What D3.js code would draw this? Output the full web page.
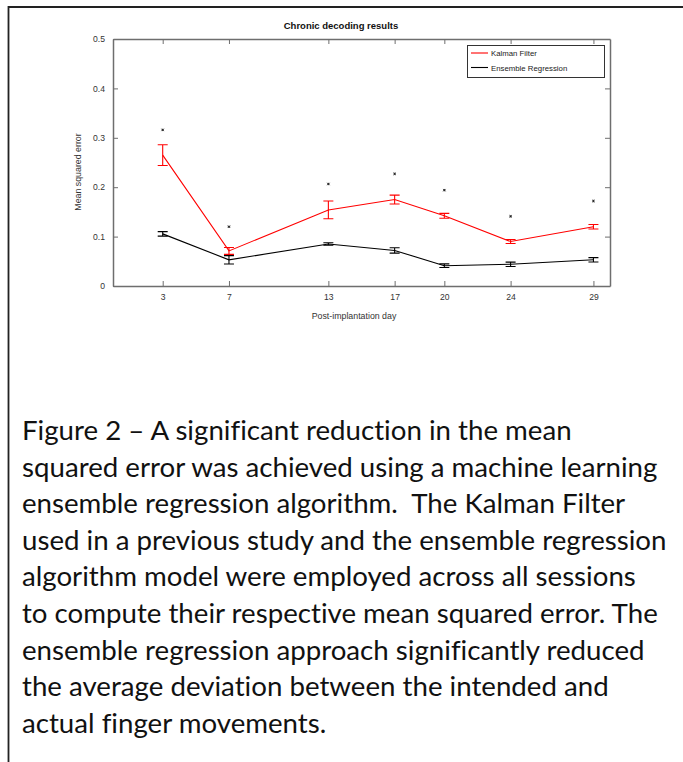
<!DOCTYPE html>
<html>
<head>
<meta charset="utf-8">
<script src="https://cdn.jsdelivr.net/npm/d3@7"></script>
<style>
  body { margin: 0; background: #fff; }
  svg { display: block; }
</style>
</head>
<body>
<div id="chart"></div>
<script>
// data
const days = [3, 7, 13, 17, 20, 24, 29];
const kalmanMean = [0.265, 0.071, 0.154, 0.175, 0.142, 0.090, 0.120];
const kalmanErr = [0.021, 0.007, 0.018, 0.009, 0.005, 0.004, 0.0045];
const ensembleMean = [0.1055, 0.053, 0.085, 0.072, 0.041, 0.044, 0.053];
const ensembleErr = [0.0045, 0.0085, 0.0025, 0.0055, 0.0037, 0.0044, 0.0044];
const sigMarks = [0.316, 0.120, 0.2065, 0.227, 0.194, 0.141, 0.172];
const yTicks = [0, 0.1, 0.2, 0.3, 0.4, 0.5];
const yTickLabels = ["0", "0.1", "0.2", "0.3", "0.4", "0.5"];
const seriesNames = ["Kalman Filter", "Ensemble Regression"];
const captionLines = [
  "Figure 2 \u2013 A significant reduction in the mean",
  "squared error was achieved using a machine learning",
  "ensemble regression algorithm.  The Kalman Filter",
  "used in a previous study and the ensemble regression",
  "algorithm model were employed across all sessions",
  "to compute their respective mean squared error. The",
  "ensemble regression approach significantly reduced",
  "the average deviation between the intended and",
  "actual finger movements."
];

function drawChart() {
  const width = 683;
  const height = 762;

  const dimensions = {
    left: 113,
    right: 610,
    top: 39,
    bottom: 286,
  };

  const svg = d3.select("#chart")
    .append("svg")
      .attr("width", width)
      .attr("height", height);

  // outer frame (top and left only)
  svg.append("path")
    .attr("d", `M8.5,${height} L8.5,7 L${width},7`)
    .attr("fill", "none")
    .attr("stroke", "#222")
    .attr("stroke-width", 1.8);

  const xScale = d3.scaleLinear()
    .domain([0, 30])
    .range([dimensions.left, dimensions.right]);

  const yScale = d3.scaleLinear()
    .domain([0, 0.5])
    .range([dimensions.bottom, dimensions.top]);

  const axisColor = "#6e6e6e";
  const labelColor = "#333";
  const tickLen = 5;

  // axes box with inward ticks on all sides
  const bottomAxis = d3.axisBottom(xScale).tickValues(days).tickSizeInner(-tickLen).tickSizeOuter(0).tickPadding(8);
  const topAxis = d3.axisTop(xScale).tickValues(days).tickSizeInner(-tickLen).tickSizeOuter(0).tickFormat("");
  const leftAxis = d3.axisLeft(yScale).tickValues(yTicks).tickSizeInner(-tickLen).tickSizeOuter(0)
    .tickPadding(8).tickFormat((d, i) => yTickLabels[i]);
  const rightAxis = d3.axisRight(yScale).tickValues(yTicks).tickSizeInner(-tickLen).tickSizeOuter(0).tickFormat("");

  const axes = [
    [bottomAxis, `translate(0,${dimensions.bottom})`],
    [topAxis, `translate(0,${dimensions.top})`],
    [leftAxis, `translate(${dimensions.left},0)`],
    [rightAxis, `translate(${dimensions.right},0)`],
  ];
  axes.forEach(([ax, tr]) => {
    const g = svg.append("g").attr("transform", tr).call(ax);
    g.select(".domain").attr("stroke", axisColor).attr("stroke-width", 1.5);
    g.selectAll(".tick line").attr("stroke", axisColor);
    g.selectAll(".tick text")
      .attr("fill", labelColor)
      .style("font-family", "'Liberation Sans', Arial, sans-serif")
      .style("font-size", "8.6px");
  });

  // title and axis labels
  svg.append("text")
    .attr("x", 341)
    .attr("y", 29)
    .attr("text-anchor", "middle")
    .style("font-family", "'Liberation Sans', Arial, sans-serif")
    .style("font-size", "9.5px")
    .style("font-weight", "bold")
    .attr("fill", "#111")
    .text("Chronic decoding results");

  svg.append("text")
    .attr("x", 354)
    .attr("y", 319)
    .attr("text-anchor", "middle")
    .style("font-family", "'Liberation Sans', Arial, sans-serif")
    .style("font-size", "8.8px")
    .attr("fill", labelColor)
    .text("Post-implantation day");

  svg.append("text")
    .attr("transform", `translate(81,172) rotate(-90)`)
    .attr("text-anchor", "middle")
    .style("font-family", "'Liberation Sans', Arial, sans-serif")
    .style("font-size", "8.8px")
    .attr("fill", labelColor)
    .text("Mean squared error");

  // series
  const series = [
    { name: seriesNames[0], color: "#ff0000", mean: kalmanMean, err: kalmanErr },
    { name: seriesNames[1], color: "#000000", mean: ensembleMean, err: ensembleErr },
  ];

  const line = d3.line()
    .x(d => xScale(d[0]))
    .y(d => yScale(d[1]));

  const capHalf = 5;

  series.forEach(s => {
    const pts = days.map((d, i) => [d, s.mean[i], s.err[i]]);
    svg.append("path")
      .datum(pts)
      .attr("d", line)
      .attr("fill", "none")
      .attr("stroke", s.color)
      .attr("stroke-width", 1.1);

    const bars = svg.append("g")
      .attr("stroke", s.color)
      .attr("stroke-width", 1.1);
    pts.forEach(p => {
      const x = xScale(p[0]);
      const y0 = yScale(p[1] - p[2]);
      const y1 = yScale(p[1] + p[2]);
      bars.append("path")
        .attr("d", `M${x},${y0}L${x},${y1}M${x - capHalf},${y0}L${x + capHalf},${y0}M${x - capHalf},${y1}L${x + capHalf},${y1}`)
        .attr("fill", "none");
    });
  });

  // significance markers
  const marks = svg.append("g")
    .attr("stroke", "#222")
    .attr("stroke-width", 0.8);
  days.forEach((d, i) => {
    const x = xScale(d);
    const y = yScale(sigMarks[i]);
    const r = 1.2;
    marks.append("path")
      .attr("d", `M${x - r},${y}L${x + r},${y}M${x},${y - r}L${x},${y + r}M${x - r},${y - r}L${x + r},${y + r}M${x - r},${y + r}L${x + r},${y - r}`);
  });

  // legend
  const legend = svg.append("g");
  legend.append("rect")
    .attr("x", 467.5)
    .attr("y", 45.5)
    .attr("width", 137)
    .attr("height", 32)
    .attr("fill", "#fff")
    .attr("stroke", "#333")
    .attr("stroke-width", 1);

  series.forEach((s, i) => {
    const y = 53 + i * 14.5;
    legend.append("line")
      .attr("x1", 471)
      .attr("x2", 488)
      .attr("y1", y)
      .attr("y2", y)
      .attr("stroke", s.color)
      .attr("stroke-width", 1.1);
    legend.append("text")
      .attr("x", 491)
      .attr("y", y + 3)
      .style("font-family", "'Liberation Sans', Arial, sans-serif")
      .style("font-size", "7.8px")
      .attr("fill", "#222")
      .text(s.name);
  });

  // caption
  const caption = svg.append("g")
    .style("font-family", "Lato, 'Open Sans', sans-serif")
    .style("white-space", "pre")
    .style("font-variant-ligatures", "none")
    .attr("fill", "#111");

  const baseSize = 26;
  const lines = caption.selectAll("text")
    .data(captionLines)
    .join("text")
      .attr("x", 22)
      .attr("y", (d, i) => 440 + i * 36.6)
      .attr("xml:space", "preserve")
      .style("font-size", baseSize + "px")
      .text(d => d);

  // scale font so the widest line spans the same width as in the figure
  const widest = d3.max(lines.nodes(), n => n.getComputedTextLength());
  const size = baseSize * 645 / widest;
  lines.style("font-size", size + "px");
}

drawChart();
</script>
</body>
</html>
